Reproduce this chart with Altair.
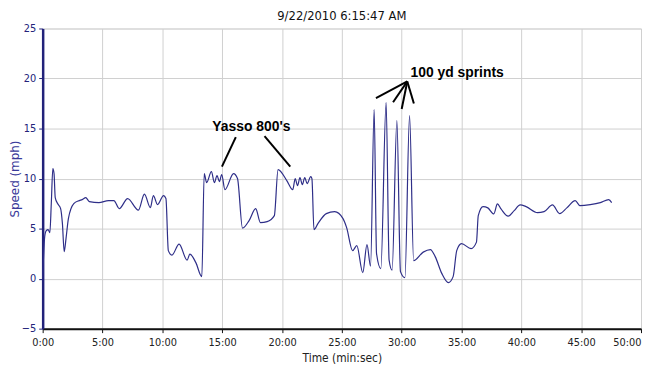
import altair as alt
import pandas as pd

# time in minutes, speed in mph
times = [0, 0.17, 0.3, 0.45, 0.6, 0.72, 0.85, 0.95, 1.05, 1.25, 1.5, 1.65, 1.8, 1.95, 2.15,
         2.6, 3.06, 3.3, 3.6, 3.9, 4.7, 5.5, 5.95, 6.4, 7.1, 8.0, 8.5, 9.0, 9.25, 9.6,
         10.1, 10.3, 10.5, 10.8, 11.4, 12.07, 12.3, 12.8, 13.3, 13.5, 13.7, 14.1, 14.35,
         14.57, 14.77, 14.96, 15.23, 15.95, 16.28, 16.7, 17.25, 17.8, 18.2, 18.76, 19.36,
         19.67, 20.4, 20.9, 21.1, 21.3, 21.5, 21.7, 21.9, 22.1, 22.4, 22.5, 22.67, 23.0,
         23.7, 24.4, 25.1, 25.4, 25.9, 26.25, 26.75, 27.1, 27.4, 27.7, 27.9, 28.26, 28.7,
         28.95, 29.2, 29.6, 29.9, 30.27, 30.66, 31.0, 31.8, 32.4, 32.8, 33.36, 33.9, 34.3,
         34.6, 35.0, 35.8, 36.25, 36.4, 36.8, 37.2, 37.7, 38.0, 38.3, 38.9, 39.4, 39.9,
         40.4, 41.35, 41.9, 42.6, 43.2, 43.8, 44.5, 44.9, 45.76, 46.6, 47.3, 47.55]
speeds = [0, 4.2, 4.8, 4.9, 4.6, 7.5, 11.0, 10.5, 8.1, 7.5, 7.0, 5.5, 2.7, 4.0, 6.0,
          7.5, 7.8, 7.9, 8.1, 7.7, 7.6, 7.8, 7.8, 7.0, 8.0, 6.85, 8.45, 7.1, 8.3, 7.4,
          8.3, 8.0, 2.8, 2.35, 3.45, 1.85, 2.45, 1.6, 0.2, 10.5, 9.6, 10.7, 9.6,
          10.3, 9.7, 10.4, 8.9, 10.5, 10.0, 5.05, 5.8, 7.0, 5.6, 5.7, 6.3,
          10.9, 9.8, 8.9, 10.0, 9.3, 10.1, 9.4, 10.1, 9.5, 10.2, 10.0, 4.9, 5.5,
          6.5, 6.7, 6.0, 5.1, 2.8, 3.3, 0.6, 3.4, 1.25, 16.9, 2.5, 1.0, 17.6,
          1.85, 0.85, 15.8, 0.7, 0.1, 16.3, 1.8, 2.65, 2.9, 2.2, 0.5, -0.4, 0.2,
          2.8, 3.5, 3.0, 3.65, 6.3, 7.2, 7.07, 6.47, 7.47, 6.97, 6.24, 6.8, 7.37,
          7.2, 6.6, 6.7, 7.37, 6.5, 7.07, 7.8, 7.3, 7.4, 7.6, 7.9, 7.6]

# annotation pointer lines (data units)
ann_x1 = [16.14, 18.54, 30.47, 30.47, 30.47, 30.47]
ann_y1 = [14.15, 14.25, 19.71, 19.71, 19.71, 19.71]
ann_x2 = [14.98, 20.69, 27.85, 29.28, 30.0, 31.02]
ann_y2 = [11.2, 11.2, 18.05, 17.63, 16.96, 17.5]

ann_text = ["Yasso 800's", "100 yd sprints"]
ann_tx = [17.44, 30.74]
ann_ty = [15.14, 20.54]
ann_align = ["center", "left"]

x_ticks = list(range(0, 51, 5))
y_ticks = list(range(-5, 26, 5))

df = pd.DataFrame({"t": times, "v": speeds})
rules = pd.DataFrame({"t": ann_x1, "v": ann_y1, "t2": ann_x2, "v2": ann_y2})
texts = pd.DataFrame({"t": ann_tx, "v": ann_ty, "label": ann_text, "al": ann_align})

NARROW = "Liberation Sans Narrow, DejaVu Sans Condensed, Liberation Sans, sans-serif"
NAVY = "#22227a"

x_enc = alt.X(
    "t:Q",
    scale=alt.Scale(domain=[0, 50], nice=False, zero=False),
    axis=alt.Axis(
        values=x_ticks,
        labelExpr="datum.value + ':00'",
        title="Time (min:sec)",
        titleFont=NARROW, titleFontSize=12, titleFontWeight="normal", titleColor="#222",
        titleX=302, titleY=29, titleBaseline="middle",
        labelFont=NARROW, labelFontSize=11, labelColor="#222",
        labelFlush=False, labelOverlap=False, labelBound=False, labelPadding=4,
        labelAlign={"condition": {"test": "datum.value >= 50", "value": "right"}, "value": "center"},
        domainColor="#111", domainWidth=2, tickColor="#111", tickSize=4,
        gridColor="#cfcfcf", gridWidth=1,
    ),
)
y_enc = alt.Y(
    "v:Q",
    scale=alt.Scale(domain=[-5, 25], nice=False, zero=False),
    axis=alt.Axis(
        values=y_ticks,
        title="Speed (mph)",
        titleFont="DejaVu Sans", titleFontSize=12, titleFontWeight="normal", titleColor="#3a3a9a",
        titleX=-28, titleY=151.5, titleBaseline="middle", titleAngle=-90,
        labelFont=NARROW, labelFontSize=11, labelColor=NAVY, labelPadding=3,
        domainColor=NAVY, domainWidth=2.5, tickColor=NAVY, tickSize=4,
        gridColor="#cfcfcf", gridWidth=1,
    ),
)

line = alt.Chart(df).mark_line(color="#2e2e88", strokeWidth=1.2, interpolate="monotone").encode(
    x=x_enc, y=y_enc
)

pointers = alt.Chart(rules).mark_rule(color="black", strokeWidth=2).encode(
    x=x_enc, y=y_enc, x2="t2:Q", y2="v2:Q"
)

label_yasso = alt.Chart(texts[texts["al"] == "center"]).mark_text(
    font="Liberation Sans", fontSize=14, fontWeight="bold", color="black", align="center", baseline="middle"
).encode(x=x_enc, y=y_enc, text="label:N")

label_sprint = alt.Chart(texts[texts["al"] == "left"]).mark_text(
    font="Liberation Sans", fontSize=14, fontWeight="bold", color="black", align="left", baseline="middle"
).encode(x=x_enc, y=y_enc, text="label:N")

chart = alt.layer(line, pointers, label_yasso, label_sprint).properties(
    width=604,
    height=303,
    autosize=alt.AutoSizeParams(type="none"),
    padding={"left": 35, "top": 19, "right": 1, "bottom": 36},
    title=alt.TitleParams(
        "9/22/2010 6:15:47 AM", font=NARROW, fontSize=13, fontWeight="normal",
        color="#111", anchor="middle", offset=0,
    ),
).configure_view(stroke=None).configure(background="white")

chart.save("out.html", embed_options={"renderer": "svg", "actions": False})
